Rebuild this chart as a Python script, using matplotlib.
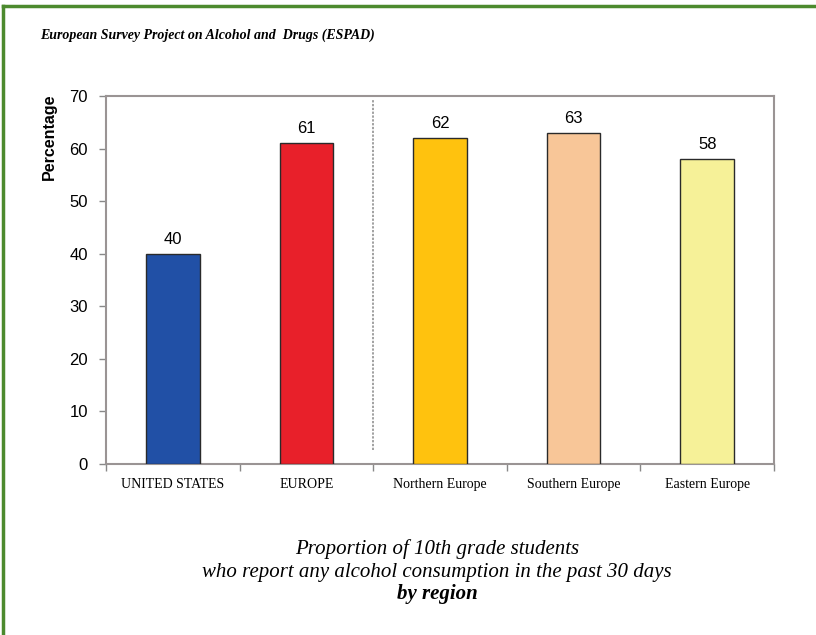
import matplotlib
matplotlib.use("Agg")
import matplotlib.pyplot as plt
from matplotlib.lines import Line2D

# Data
regions = ["UNITED STATES", "EUROPE", "Northern Europe", "Southern Europe", "Eastern Europe"]
percent = [40, 61, 62, 63, 58]
bar_colors = ["#2150A6", "#E8202A", "#FFC20E", "#F8C698", "#F6F198"]
y_ticks = [0, 10, 20, 30, 40, 50, 60, 70]

fig = plt.figure(figsize=(8.16, 6.35), dpi=100)
fig.patch.set_facecolor("white")

ax = fig.add_axes([106 / 816, 1 - 464 / 635, (774 - 106) / 816, (464 - 96) / 635])
x = list(range(len(regions)))
ax.bar(x, percent, width=0.40, color=bar_colors, edgecolor="#2a2a2a", linewidth=1.0, zorder=3)

for xi, v in zip(x, percent):
    ax.annotate(f"{v}", (xi, v), xytext=(0, 5), textcoords="offset points",
                ha="center", va="bottom", fontsize=12, family="Liberation Sans")

ax.set_xlim(-0.5, len(regions) - 0.5)
ax.set_ylim(0, 70)
ax.set_yticks(y_ticks)
ax.set_yticklabels([str(t) for t in y_ticks], fontsize=12, family="Liberation Sans")
ax.tick_params(axis="y", length=5, width=1, color="#888888", pad=8)

# category boundaries carry tick marks, centers carry the labels
ax.set_xticks([i - 0.5 for i in range(len(regions) + 1)])
ax.set_xticklabels([])
ax.tick_params(axis="x", which="major", length=5, width=1, color="#888888")
ax.set_xticks(x, minor=True)
ax.set_xticklabels(regions, minor=True, fontsize=10, family="Liberation Serif")
ax.tick_params(axis="x", which="minor", length=0, pad=10)

for s in ax.spines.values():
    s.set_color("#9a9494")
    s.set_linewidth(1.5)

# divider between the US/Europe comparison and the European regions
ax.axvline(1.5, ymin=2.7 / 70, ymax=69.2 / 70, color="#888888", linestyle=(0, (1.5, 1)),
           linewidth=1.1, zorder=2)

fig.text(49 / 816, 1 - 137 / 635, "Percentage", rotation=90, ha="center", va="center",
         fontsize=11.5, fontweight="bold", family="Liberation Sans")

fig.text(40 / 816, 1 - 35 / 635, "European Survey Project on Alcohol and  Drugs (ESPAD)",
         ha="left", va="center", fontsize=10, fontweight="bold", style="italic",
         family="Liberation Serif")

fig.text(437 / 816, 1 - 549 / 635, "Proportion of 10th grade students", ha="center",
         va="center", fontsize=15, style="italic", family="Liberation Serif")
fig.text(437 / 816, 1 - 572 / 635, "who report any alcohol consumption in the past 30 days",
         ha="center", va="center", fontsize=15, style="italic", family="Liberation Serif")
fig.text(437 / 816, 1 - 594 / 635, "by region", ha="center", va="center", fontsize=15,
         style="italic", fontweight="bold", family="Liberation Serif")

# green frame along the top and left edges
green = "#4C8A2E"
fig.add_artist(Line2D([3 / 816, 1], [1 - 6 / 635, 1 - 6 / 635], color=green, linewidth=2.5,
                      transform=fig.transFigure))
fig.add_artist(Line2D([3 / 816, 3 / 816], [0, 1 - 6 / 635], color=green, linewidth=2.5,
                      transform=fig.transFigure))

fig.savefig("out.png", dpi=100)
